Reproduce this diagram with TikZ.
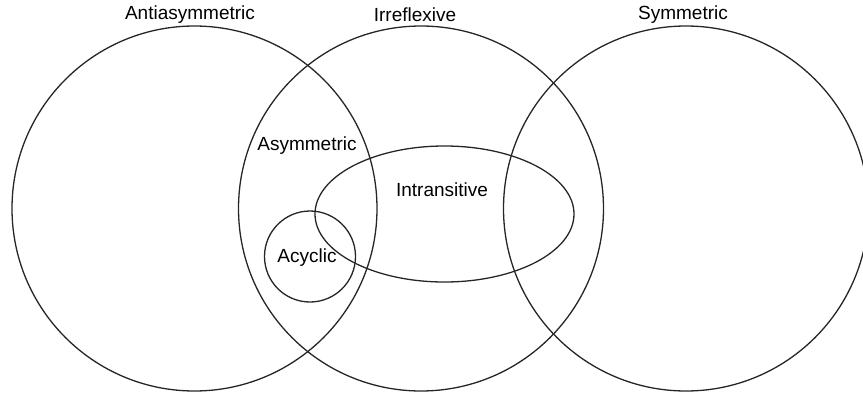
\documentclass[tikz,border=0pt]{standalone}
\usepackage{fontspec}
\setmainfont{Liberation Sans}
\begin{document}
\begin{tikzpicture}[x=1pt,y=-1pt,
  ring/.style={draw=black!85,line width=1.3pt},
  lbl/.style={font=\fontsize{19}{21}\selectfont,text=black,inner sep=0pt}]
\useasboundingbox (0,0) rectangle (863,394);
\begin{scope}
\clip (0,0) rectangle (863,394);
\draw[ring] (194.5,208.5) circle[radius=182.5];
\draw[ring] (421,208.5) circle[radius=182.5];
\draw[ring] (686,208.5) circle[radius=182.5];
\draw[ring] (444.5,214) ellipse[x radius=129.5,y radius=68];
\draw[ring] (310,256.5) circle[radius=45.5];
\end{scope}
\node[lbl] (anti) at (190,15) {Antiasymmetric};
\node[lbl] (irr) at (415,15) {Irreflexive};
\node[lbl] (sym) at (683,15) {Symmetric};
\node[lbl] (asym) at (307,146) {Asymmetric};
\node[lbl] (intr) at (442,190) {Intransitive};
\node[lbl] (acy) at (307,258) {Acyclic};
\end{tikzpicture}
\end{document}
